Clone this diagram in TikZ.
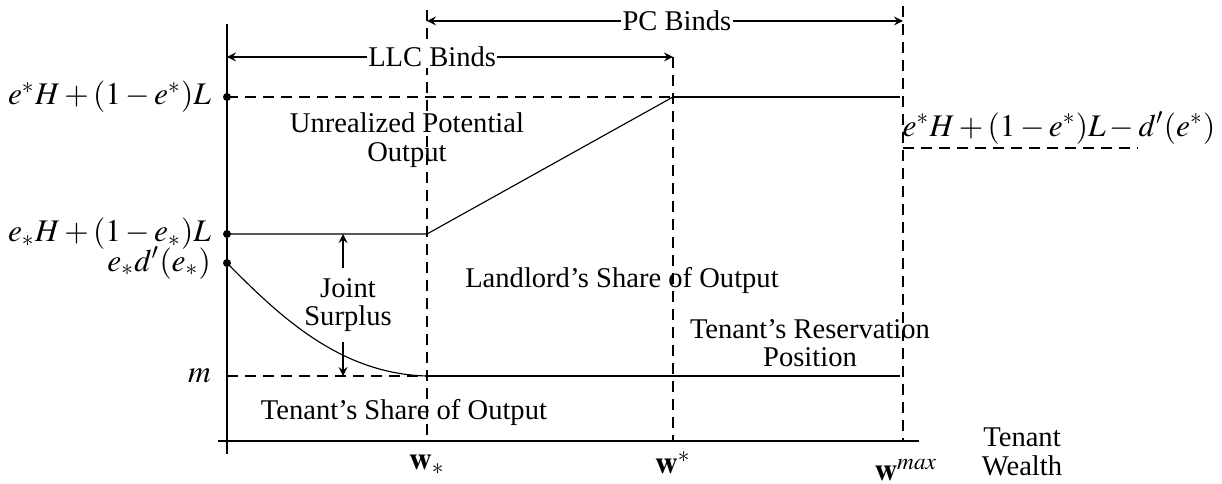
\documentclass[tikz,border=0pt]{standalone}
\usepackage{mathptmx}
\usepackage{fontspec}
\setmainfont{Liberation Serif}
\begin{document}
\begin{tikzpicture}[>=stealth, x=0.35pt, y=0.35pt,
  guide/.style={dash pattern=on 3.7pt off 2.6pt},
  lbl/.style={align=center, font=\fontsize{10}{10}\selectfont},
  mlbl/.style={font=\fontsize{11}{11}\selectfont},
  span/.style={fill=white, inner sep=0.5pt}]
\useasboundingbox (-227,-43) rectangle (995,441);

\coordinate (O) at (0,0);
\coordinate (ws) at (200,0);
\coordinate (wst) at (446,0);
\coordinate (wmax) at (676,0);

\draw(-9,0)--(692,0);
\draw(0,-13)--(0,417);

% output levels
\draw[guide](0,344)--(wst |- 0,344);
\draw(wst |- 0,344)--(673,344);
\draw(0,207)--(ws |- 0,207)--(wst |- 0,344);
\draw(0,178) .. controls (55,122) and (115,67) .. (ws |- 0,65);
\draw[guide](0,65)--(ws |- 0,65);
\draw(ws |- 0,65)--(673,65);
\draw[guide](wmax |- 0,293)--(911,293);

\foreach \c/\t in {ws/431, wst/384, wmax/435}
{
    \draw[guide](\c |- 0,\t)--(\c);
}

\draw[<->](0,384)--node[span, pos=.46]{LLC Binds}(wst |- 0,384);
\draw[<->](ws |- 0,420)--node[span, pos=.525]{PC Binds}(wmax |- 0,420);

\foreach \y/\lab in {344/{$e^*H+(1-e^*)L$}, 207/{$e_*H+(1-e_*)L$}, 178/{$e_*d'(e_*)$}}
{
    \fill(0,\y)circle (1.4pt);
    \node[mlbl, left] at (-6,\y){\lab};
}
\node[mlbl, left] at (-6,65){$m$};
\node[mlbl] at (832,313){$e^*H+(1-e^*)L-d'(e^*)$};

\node[lbl] at (180,301){Unrealized Potential\\Output};
\node[lbl] (js) at (121,136){Joint\\Surplus};
\coordinate (jtop) at (116,207);
\coordinate (jbot) at (116,65);
\draw[->](js.north -| jtop)--(jtop);
\draw[->](js.south -| jbot)--(jbot);
\node[lbl] at (395,161){Landlord's Share of Output};
\node[lbl] at (583,98){Tenant's Reservation\\Position};
\node[lbl] at (177,29){Tenant's Share of Output};
\node[lbl] at (795,-11){Tenant\\Wealth};

\node[mlbl] at (200,-24){$\mathbf{w}_*$};
\node[mlbl] at (446,-22){$\mathbf{w}^*$};
\node[mlbl] at (679,-29){$\mathbf{w}^{max}$};
\end{tikzpicture}
\end{document}
